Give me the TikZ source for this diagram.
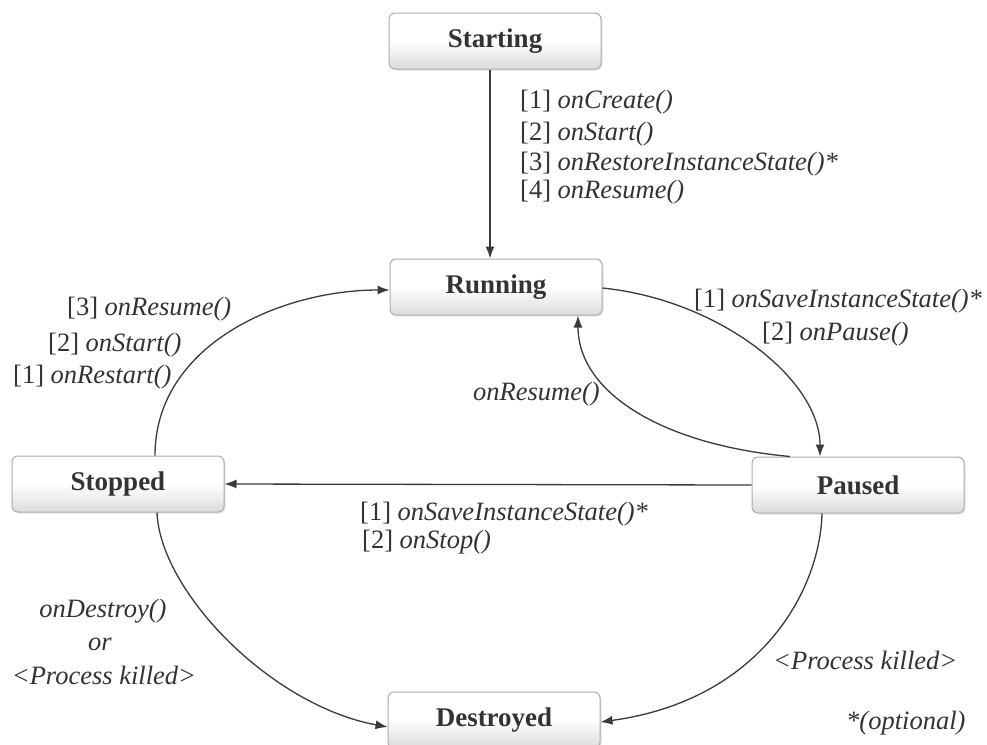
\documentclass[tikz,border=0pt]{standalone}
\usepackage{fontspec}
\setmainfont{Liberation Serif}
\usetikzlibrary{arrows.meta,calc,shadows}
\definecolor{ink}{HTML}{333333}
\definecolor{edge}{HTML}{3A3A3A}
\tikzset{
  statebox/.style={rectangle, rounded corners=6pt, draw=gray!65, line width=1pt,
    top color=white, bottom color=gray!28, middle color=white,
    minimum width=212pt, minimum height=56pt, inner sep=0pt,
    font=\fontsize{27}{30}\selectfont\bfseries, text=ink,
    drop shadow={shadow xshift=1.5pt, shadow yshift=-1.5pt, fill=gray!40, opacity=0.5}},
  lbl/.style={anchor=base west, inner sep=0pt, font=\fontsize{26.5}{30}\selectfont, text=ink},
  arr/.style={draw=edge, line width=1.3pt, -{Latex[length=12pt,width=9pt]}}
}
\begin{document}
\begin{tikzpicture}[x=1pt,y=-1pt]
\useasboundingbox[fill=white] (0,0) rectangle (987,744);

% states
\node[statebox] (Starting)  at (495,41)  {Starting};
\node[statebox] (Running)   at (496,287) {Running};
\node[statebox] (Stopped)   at (118,484) {Stopped};
\node[statebox] (Paused)    at (858,485) {Paused};
\node[statebox] (Destroyed) at (494,720) {Destroyed};

% transitions
\draw[arr] ($(Starting.south)+(-5,0)$) -- ($(Running.north)+(-6,0)$);
\draw[arr] ($(Stopped.north)+(37,0)$) .. controls +(0,-110) and +(-110,0) .. ($(Running.west)+(0,3)$);
\draw[arr] ($(Running.east)+(0,1)$) .. controls +(117,12) and +(0,-77) .. ($(Paused.north)+(-38,0)$);
\draw[arr] ($(Paused.north)+(-68,0)$) .. controls +(-130,-12) and +(0,76) .. ($(Running.south)+(82,0)$);
\draw[arr] (Paused.west) -- (Stopped.east);
\draw[arr] ($(Stopped.south)+(39,0)$) .. controls +(3,78) and +(-118,-22) .. ($(Destroyed.west)+(0,7)$);
\draw[arr] ($(Paused.south)+(-36,0)$) .. controls +(-2,77) and +(160,-22) .. ($(Destroyed.east)+(0,2)$);

% labels
\node[lbl] (t1) at (520,108) {[1] \textit{onCreate()}};
\node[lbl] (t2) at (520,140) {[2] \textit{onStart()}};
\node[lbl] (t3) at (520,170) {[3] \textit{onRestoreInstanceState()*}};
\node[lbl] (t4) at (520,198) {[4] \textit{onResume()}};

\node[lbl] (r1) at (694,307) {[1] \textit{onSaveInstanceState()*}};
\node[lbl] (r2) at (762,340) {[2] \textit{onPause()}};

\node[lbl] (s3) at (67,315) {[3] \textit{onResume()}};
\node[lbl] (s2) at (48,351) {[2] \textit{onStart()}};
\node[lbl] (s1) at (13,383) {[1] \textit{onRestart()}};

\node[lbl] (m1) at (473,400) {\textit{onResume()}};

\node[lbl] (p1) at (360,520) {[1] \textit{onSaveInstanceState()*}};
\node[lbl] (p2) at (362,548) {[2] \textit{onStop()}};

\node[lbl, anchor=base] (d1) at (103,617) {\textit{onDestroy()}};
\node[lbl, anchor=base] (d2) at (100,650) {\textit{or}};
\node[lbl, anchor=base] (d3) at (104,684) {\textit{<Process killed>}};

\node[lbl] (k1) at (773,669) {\textit{<Process killed>}};
\node[lbl] (o1) at (846,729) {\textit{*(optional)}};
\end{tikzpicture}
\end{document}
